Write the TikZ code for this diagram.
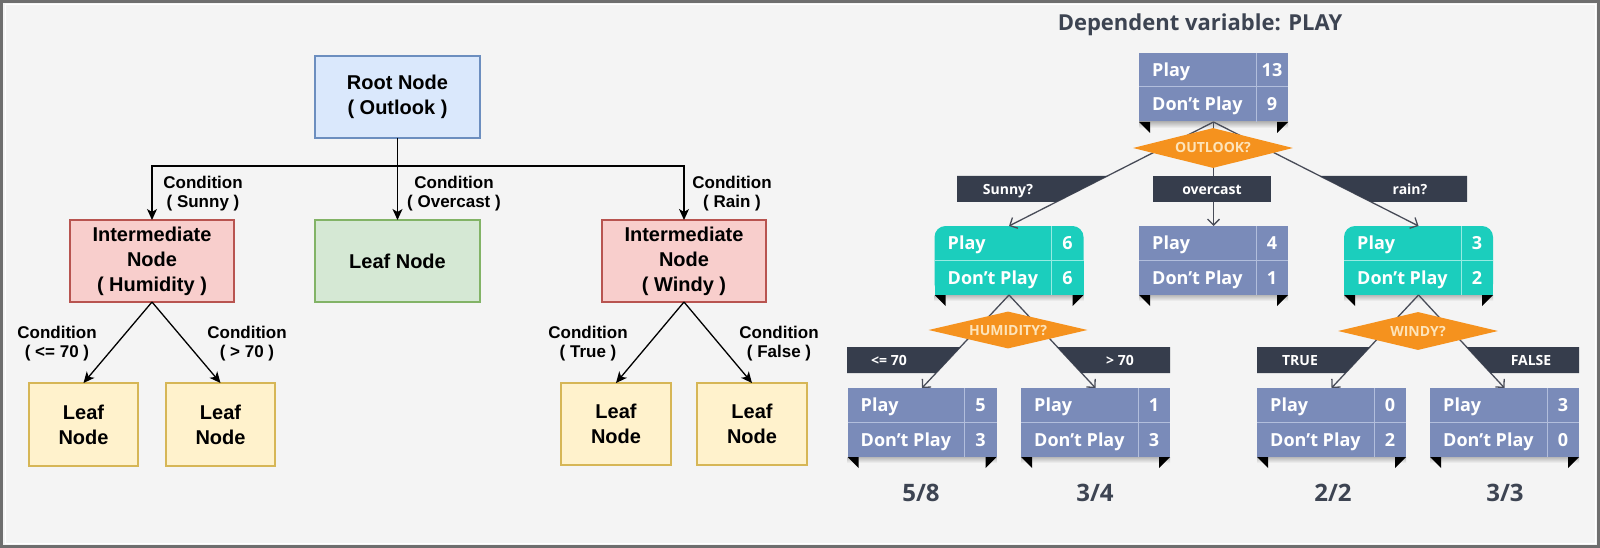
\documentclass[tikz,border=0pt]{standalone}
\usepackage{fontspec}
\setmainfont{Liberation Sans}
\newfontfamily\osf{Open Sans}
\usetikzlibrary{arrows.meta,shapes.geometric,calc}
\definecolor{bgc}{RGB}{244,244,244}
\definecolor{borderc}{RGB}{110,110,110}
\definecolor{bluef}{HTML}{DAE8FC}\definecolor{blued}{HTML}{6C8EBF}
\definecolor{greenf}{HTML}{D5E8D4}\definecolor{greend}{HTML}{82B366}
\definecolor{redf}{HTML}{F8CECC}\definecolor{redd}{HTML}{B85450}
\definecolor{yelf}{HTML}{FFF2CC}\definecolor{yeld}{HTML}{D6B656}
\definecolor{slatec}{RGB}{122,139,185}
\definecolor{slatel}{RGB}{178,190,220}
\definecolor{tealc}{RGB}{27,206,189}
\definecolor{teall}{RGB}{150,235,226}
\definecolor{barc}{RGB}{54,61,76}
\definecolor{orangec}{RGB}{245,146,30}
\definecolor{creamc}{RGB}{253,228,186}
\definecolor{darkt}{RGB}{61,68,82}
\definecolor{linec}{RGB}{72,76,88}
\tikzset{
  lbox/.style={rectangle, draw, line width=1.3pt, inner sep=0pt, outer sep=0pt, align=center,
    font=\bfseries\fontsize{20}{25}\selectfont},
  cond/.style={align=center, inner sep=0pt, font=\bfseries\fontsize{17}{19.5}\selectfont},
  larr/.style={line width=1.3pt, -{Stealth[length=11pt,width=10pt,inset=3pt]}},
  tbl/.style={rectangle, minimum width=149pt, minimum height=69pt, inner sep=0pt, outer sep=0pt},
  ttxt/.style={font=\osf\bfseries\fontsize{18}{20}\selectfont, text=white, inner sep=0pt},
  rarr/.style={line width=1.3pt, draw=linec, -{Straight Barb[length=6pt,width=12pt,line width=1.3pt]}},
  bartxt/.style={font=\osf\bfseries\fontsize{14}{16}\selectfont, text=white, inner sep=0pt, text height=10pt, text depth=0pt},
  dia/.style={diamond, fill=orangec, aspect=4, inner sep=0pt, minimum width=160pt, minimum height=40pt,
    font=\osf\bfseries\fontsize{14}{16}\selectfont, text=creamc, text height=10pt, text depth=0pt},
  frac/.style={font=\osf\bfseries\fontsize{24}{26}\selectfont, text=darkt, inner sep=0pt}
}
% table contents: name, play, dont, divider colour
\newcommand{\TblContent}[4]{%
  \shade[top color=black!28, bottom color=bgc] (#1.south west) rectangle ($(#1.south east)+(0,6)$);
  \draw[#4, line width=1pt] ($(#1.north west)+(0,34)$) -- ($(#1.north east)+(0,34)$);
  \draw[#4, line width=1pt] ($(#1.north east)+(-32,0)$) -- ($(#1.south east)+(-32,0)$);
  \node[ttxt, anchor=base west] (#1p) at ($(#1.north west)+(13,23.5)$) {Play};
  \node[ttxt, anchor=base west] (#1d) at ($(#1.north west)+(13,58)$) {Don’t Play};
  \node[ttxt, anchor=base] (#1pv) at ($(#1.north east)+(-16,23.5)$) {#2};
  \node[ttxt, anchor=base] (#1dv) at ($(#1.north east)+(-16,58)$) {#3};
  \fill[black] (#1.south west) -- ++(11,0) -- ++(0,11) -- cycle;
  \fill[black] (#1.south east) -- ++(-11,0) -- ++(0,11) -- cycle;
}
\newcommand{\SlateTbl}[5]{% name x y play dont
  \node[tbl, fill=slatec] (#1) at (#2,#3) {};
  \TblContent{#1}{#4}{#5}{slatel}}
\newcommand{\TealTbl}[5]{%
  \node[tbl] (#1) at (#2,#3) {};
  \fill[tealc, rounded corners=11pt] (#1.north west) rectangle (#1.south east);
  \fill[tealc] (#1.west) rectangle (#1.south east);
  \TblContent{#1}{#4}{#5}{teall}}
\begin{document}
\begin{tikzpicture}[x=1pt,y=-1pt]
\useasboundingbox (0,0) rectangle (1600,548);
\fill[bgc] (0,0) rectangle (1600,548);
\draw[white, line width=1pt] (5,5) rectangle (1595,543);
\draw[borderc, line width=3pt] (1.5,1.5) rectangle (1598.5,546.5);

% ---------------- left tree ----------------
\node[lbox, fill=bluef, draw=blued, minimum width=165pt, minimum height=82pt] (root) at (397.5,97) {Root Node\\( Outlook )};
\node[lbox, fill=greenf, draw=greend, minimum width=165pt, minimum height=82pt] (leafc) at (397.5,261) {Leaf Node};
\node[lbox, fill=redf, draw=redd, minimum width=164pt, minimum height=82pt] (humid) at (152,261) {Intermediate\\Node\\( Humidity )};
\node[lbox, fill=redf, draw=redd, minimum width=164pt, minimum height=82pt] (windy) at (684,261) {Intermediate\\Node\\( Windy )};
\node[lbox, fill=yelf, draw=yeld, minimum width=109pt, minimum height=83pt] (l1) at (83.5,424.5) {Leaf\\Node};
\node[lbox, fill=yelf, draw=yeld, minimum width=109pt, minimum height=83pt] (l2) at (220.5,424.5) {Leaf\\Node};
\node[lbox, fill=yelf, draw=yeld, minimum width=110pt, minimum height=82pt] (l3) at (616,424) {Leaf\\Node};
\node[lbox, fill=yelf, draw=yeld, minimum width=110pt, minimum height=82pt] (l4) at (752,424) {Leaf\\Node};

\coordinate (bus) at ($(root.south)+(0,28)$);
\draw[larr] (root.south) -- (bus) -| (humid.north);
\draw[larr] (bus) -| (windy.north);
\draw[larr] (root.south) -- (leafc.north);
\draw[larr] (humid.south) -- (l1.north);
\draw[larr] (humid.south) -- (l2.north);
\draw[larr] (windy.south) -- (l3.north);
\draw[larr] (windy.south) -- (l4.north);

\node[cond] (c1) at (203,193.5) {Condition\\( Sunny )};
\node[cond] (c2) at (454,193.5) {Condition\\( Overcast )};
\node[cond] (c3) at (732,193.5) {Condition\\( Rain )};
\node[cond] (c4) at (57,343.5) {Condition\\( <= 70 )};
\node[cond] (c5) at (247,343.5) {Condition\\( > 70 )};
\node[cond] (c6) at (588,343.5) {Condition\\( True )};
\node[cond] (c7) at (779,343.5) {Condition\\( False )};

% ---------------- right tree ----------------
\node[font=\osf\bfseries\fontsize{22}{26}\selectfont, text=darkt, inner sep=0pt] (title) at (1200,25) {Dependent variable: PLAY};

\SlateTbl{t0}{1213.5}{87.5}{13}{9}
\TealTbl{ts}{1009}{260.5}{6}{6}
\SlateTbl{to}{1213.5}{260.5}{4}{1}
\TealTbl{tr}{1418.5}{260.5}{3}{2}
\SlateTbl{h1}{922}{422.5}{5}{3}
\SlateTbl{h2}{1095.5}{422.5}{1}{3}
\SlateTbl{w1}{1331.5}{422.5}{0}{2}
\SlateTbl{w2}{1504.5}{422.5}{3}{0}

\draw[rarr] (t0.south) -- (ts.north);
\draw[rarr] (t0.south) -- (to.north);
\draw[rarr] (t0.south) -- (tr.north);
\draw[rarr] (ts.south) -- (h1.north);
\draw[rarr] (ts.south) -- (h2.north);
\draw[rarr] (tr.south) -- (w1.north);
\draw[rarr] (tr.south) -- (w2.north);

\node[dia] (d0) at (1213,148) {OUTLOOK?};
\node[dia, minimum height=37pt, minimum width=159pt] (dh) at (1008,330) {HUMIDITY?};
\node[dia, minimum height=38pt] (dw) at (1418,331) {WINDY?};

\fill[barc] (957,176) -- (1107.3,176) -- (1056.2,202) -- (957,202) -- cycle;
\node[bartxt] (bsunny) at (1008,189) {Sunny?};
\fill[barc] (1153,176) rectangle (1271,202);
\node[bartxt] (bover) at (1212,189) {overcast};
\fill[barc] (1319.9,176) -- (1467,176) -- (1467,202) -- (1371.2,202) -- cycle;
\node[bartxt] (brain) at (1410,189) {rain?};
\fill[barc] (847,347) -- (960.4,347) -- (936.0,373) -- (847,373) -- cycle;
\node[bartxt] (ble) at (889,360) {<= 70};
\fill[barc] (1057.4,347) -- (1170,347) -- (1170,373) -- (1081.5,373) -- cycle;
\node[bartxt] (bgt) at (1120,360) {> 70};
\fill[barc] (1257,347) -- (1369.9,347) -- (1345.5,373) -- (1257,373) -- cycle;
\node[bartxt] (btrue) at (1300,360) {TRUE};
\fill[barc] (1466.6,347) -- (1579,347) -- (1579,373) -- (1490.6,373) -- cycle;
\node[bartxt] (bfalse) at (1531,360) {FALSE};

\node[frac] (f1) at (921,493) {5/8};
\node[frac] (f2) at (1095,493) {3/4};
\node[frac] (f3) at (1333,493) {2/2};
\node[frac] (f4) at (1505,493) {3/3};
\end{tikzpicture}
\end{document}
